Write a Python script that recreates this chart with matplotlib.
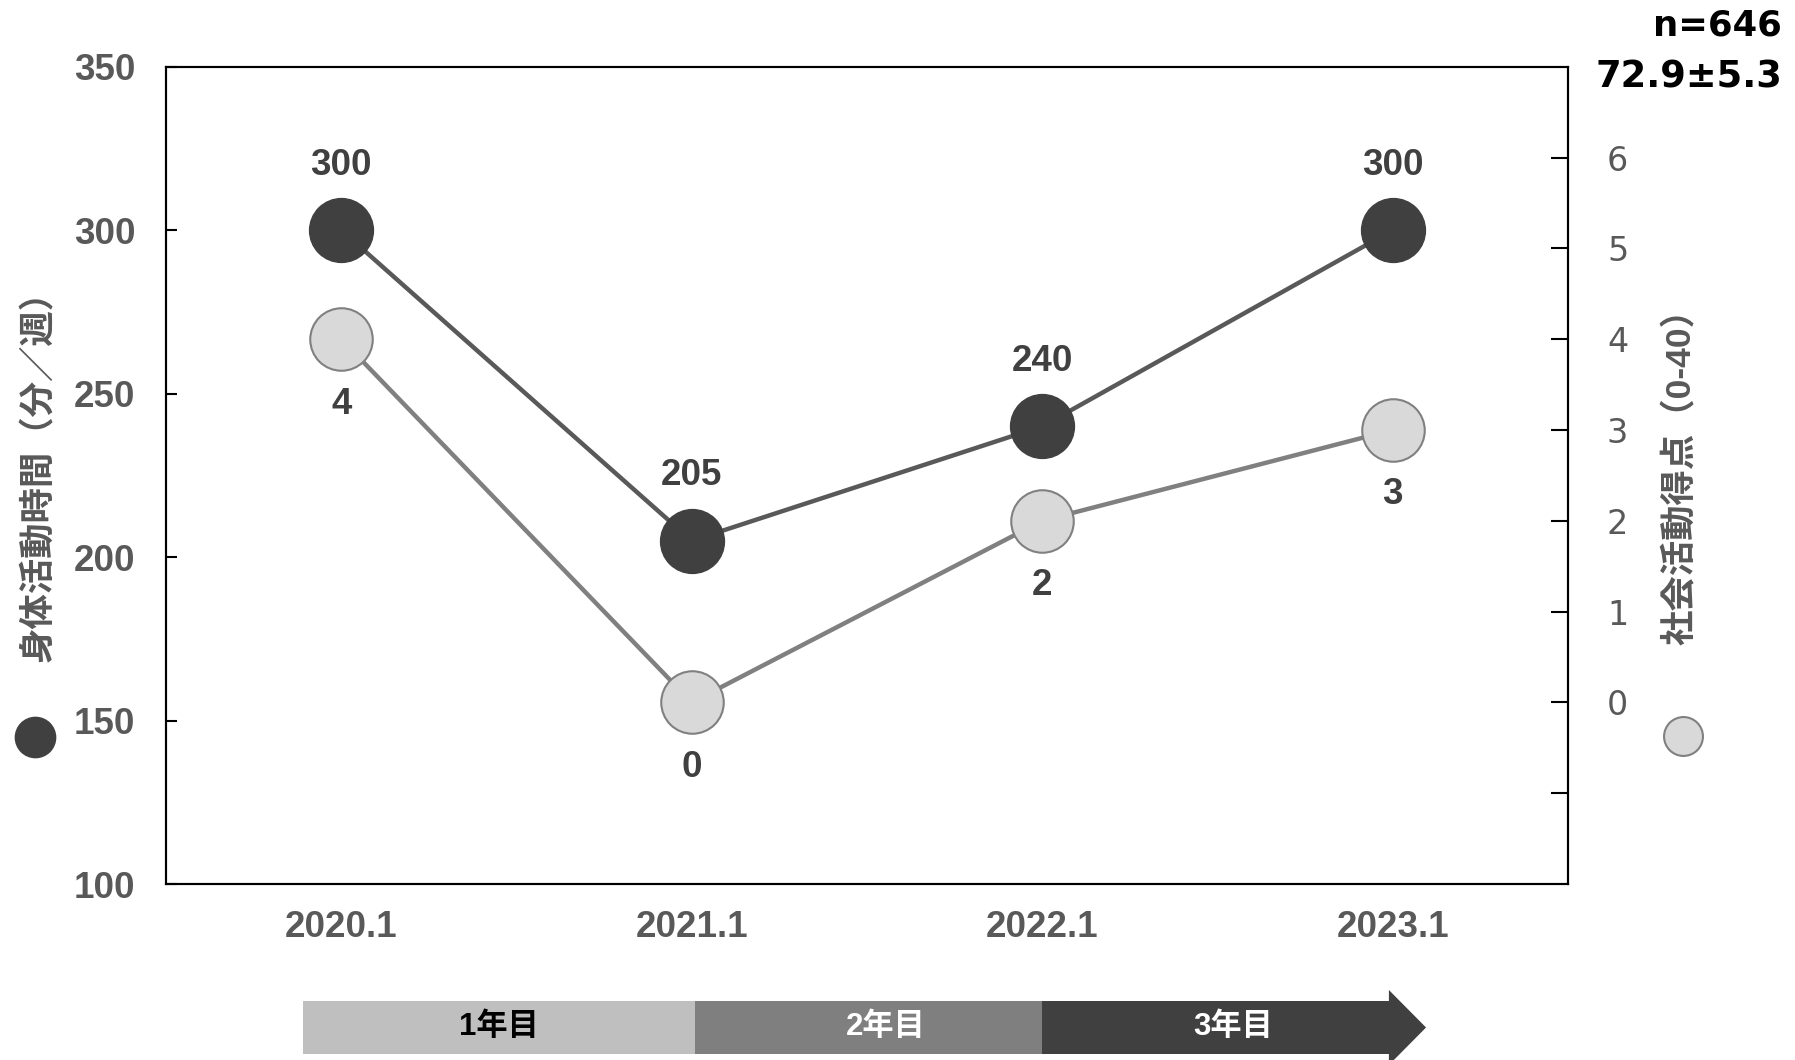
import matplotlib
matplotlib.use("Agg")
import matplotlib.pyplot as plt
from matplotlib.lines import Line2D
from matplotlib.patches import Polygon

# ---- data ----
periods = ["2020.1", "2021.1", "2022.1", "2023.1"]
physical_minutes = [300, 205, 240, 300]      # 身体活動時間（分／週）
social_score = [4, 0, 2, 3]                  # 社会活動得点（0-40）
left_ticks = [100, 150, 200, 250, 300, 350]
right_ticks = [-1, 0, 1, 2, 3, 4, 5, 6]
phase_labels = ["1年目", "2年目", "3年目"]
phase_bounds = [-0.11, 1.01, 2.0, 2.99]      # along the period axis
sample_note = ["n=646", "72.9±5.3"]

# ---- styling ----
DARK = "#404040"
DARK_LINE = "#595959"
LIGHT = "#d9d9d9"
LIGHT_LINE = "#808080"
GRAY_TXT = "#595959"
LAT = "Liberation Sans"
JP = ["Liberation Sans", "Noto Sans CJK JP", "DejaVu Sans"]
NUM_SIZE = 26.5

W, H = 1795, 1060
fig = plt.figure(figsize=(W / 100, H / 100), dpi=100)
x0, x1, y_top, y_bot = 166, 1568, 66.7, 884
ax = fig.add_axes([x0 / W, 1 - y_bot / H, (x1 - x0) / W, (y_bot - y_top) / H])
ax2 = ax.twinx()

xs = list(range(len(periods)))

# physical activity (left axis)
ax.plot(xs, physical_minutes, color=DARK_LINE, lw=3.2, zorder=3,
        marker="o", ms=46, mfc=DARK, mec=DARK, mew=1)
ax.set_xlim(-0.5, 3.5)
ax.set_ylim(100, 350)
ax.set_yticks(left_ticks)
ax.set_yticklabels([str(v) for v in left_ticks], fontfamily=LAT,
                   fontweight="bold", fontsize=NUM_SIZE, color=GRAY_TXT)
ax.set_xticks(xs)
ax.set_xticklabels(periods, fontfamily=LAT, fontweight="bold",
                   fontsize=NUM_SIZE, color=GRAY_TXT)
ax.tick_params(axis="y", direction="in", length=8, width=1.5, pad=22)
ax.tick_params(axis="x", length=0, pad=19)
for v, xv in zip(physical_minutes, xs):
    ax.annotate(str(v), (xv, v), xytext=(0, 65), textcoords="offset pixels",
                ha="center", va="center", fontfamily=LAT, fontweight="bold",
                fontsize=NUM_SIZE, color=DARK, zorder=5)

# social activity (right axis)
ax2.plot(xs, social_score, color=LIGHT_LINE, lw=3.2, zorder=3,
         marker="o", ms=45, mfc=LIGHT, mec=LIGHT_LINE, mew=1.5)
ax2.set_ylim(-2, 7)
ax2.set_yticks(right_ticks)
ax2.set_yticklabels(["" if v < 0 else str(v) for v in right_ticks],
                    fontfamily="DejaVu Sans", fontsize=24, color=GRAY_TXT)
ax2.tick_params(axis="y", direction="in", length=12, width=1.5, pad=28)
for v, xv in zip(social_score, xs):
    ax2.annotate(str(v), (xv, v), xytext=(0, -65), textcoords="offset pixels",
                 ha="center", va="center", fontfamily=LAT, fontweight="bold",
                 fontsize=NUM_SIZE, color=DARK, zorder=5)

for a in (ax, ax2):
    for s in a.spines.values():
        s.set_linewidth(1.5)
        s.set_color("black")

# axis titles with marker keys
fig.text(39 / W, 1 - 467 / H, "身体活動時間（分／週）", rotation=90,
         ha="center", va="center", fontsize=25.5, fontweight="bold",
         color=GRAY_TXT, family=JP)
fig.text(1681 / W, 1 - 468 / H, "社会活動得点（0-40）", rotation=90,
         ha="center", va="center", fontsize=25.5, fontweight="bold",
         color=GRAY_TXT, family=JP)
fig.add_artist(Line2D([35 / W], [1 - 737 / H], transform=fig.transFigure,
                      marker="o", ms=29, mfc=DARK, mec=DARK, ls="none"))
fig.add_artist(Line2D([1683 / W], [1 - 736 / H], transform=fig.transFigure,
                      marker="o", ms=28, mfc=LIGHT, mec=LIGHT_LINE, mew=1.5,
                      ls="none"))

# sample note
fig.text(1782 / W, 1 - 25 / H, sample_note[0], ha="right", va="center",
         fontsize=25.5, fontweight="bold", color="black", family="DejaVu Sans")
fig.text(1782 / W, 1 - 77 / H, sample_note[1], ha="right", va="center",
         fontsize=26.5, fontweight="bold", color="black", family="DejaVu Sans")

# phase arrow under the period axis
band = fig.add_axes([x0 / W, 0, (x1 - x0) / W, 1], zorder=-1)
band.set_xlim(-0.5, 3.5)
band.set_ylim(H, 0)
band.axis("off")
band_top, band_bot, head_top, head_bot, tip_y = 1001, 1054, 990, 1065, 1027.5
phase_colors = ["#bfbfbf", "#7f7f7f", "#404040"]
phase_text = ["black", "white", "white"]
for i, (lab, fc, tc) in enumerate(zip(phase_labels, phase_colors, phase_text)):
    a, b = phase_bounds[i], phase_bounds[i + 1]
    band.add_patch(Polygon([(a, band_top), (b, band_top), (b, band_bot),
                            (a, band_bot)], closed=True, fc=fc, ec="none",
                           clip_on=False))
    band.text((a + b) / 2 + (0.05 if i else 0), (band_top + band_bot) / 2, lab,
              ha="center", va="center", fontsize=22.5, fontweight="bold",
              color=tc, family=JP)
hx = phase_bounds[-1]
band.add_patch(Polygon([(hx - 0.001, head_top), (hx + 0.105, tip_y),
                        (hx - 0.001, head_bot)], closed=True, fc=phase_colors[-1],
                       ec="none", clip_on=False))

fig.savefig("out.png", dpi=100)
